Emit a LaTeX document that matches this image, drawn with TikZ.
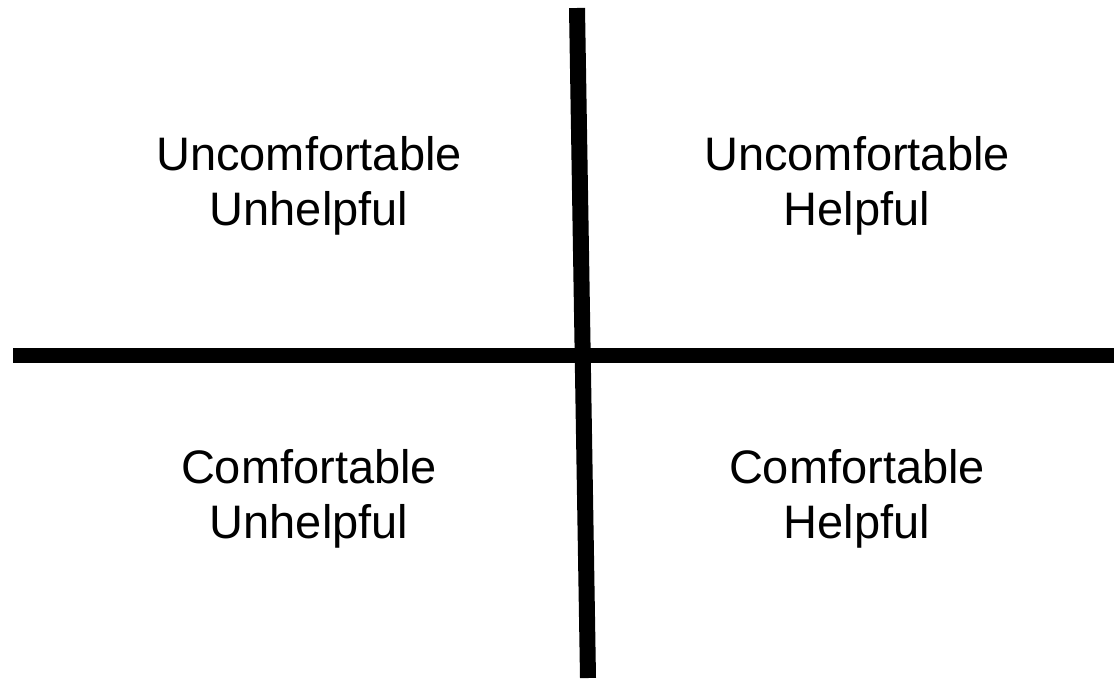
\documentclass[tikz,border=0pt]{standalone}
\usepackage{fontspec}
\setmainfont{Liberation Sans}
\usepackage{tikz}
\usetikzlibrary{positioning}

\tikzset{
  quadlabel/.style={align=center, inner sep=0pt, anchor=base, font=\fontsize{47}{55}\selectfont},
  axisline/.style={line width=15pt, line cap=butt}
}

\begin{document}
\begin{tikzpicture}[x=1pt, y=-1pt]
  \useasboundingbox (0,0) rectangle (1114,678);

  % Axes
  \coordinate (TOP) at (577,8);
  \coordinate (BOT) at (588,678);
  \coordinate (LEFT) at (13,355.5);
  \coordinate (RIGHT) at (1114,355.5);
  \draw[axisline, line width=16pt] (TOP) -- (BOT);
  \draw[axisline] (LEFT) -- (RIGHT);

  % Quadrants
  \node[quadlabel] (UU) at (309,225) {Uncomfortable\\Unhelpful};
  \node[quadlabel] (UH) at (857,225) {Uncomfortable\\Helpful};
  \node[quadlabel] (CU) at (309,538) {Comfortable\\Unhelpful};
  \node[quadlabel] (CH) at (857,538) {Comfortable\\Helpful};
\end{tikzpicture}
\end{document}
